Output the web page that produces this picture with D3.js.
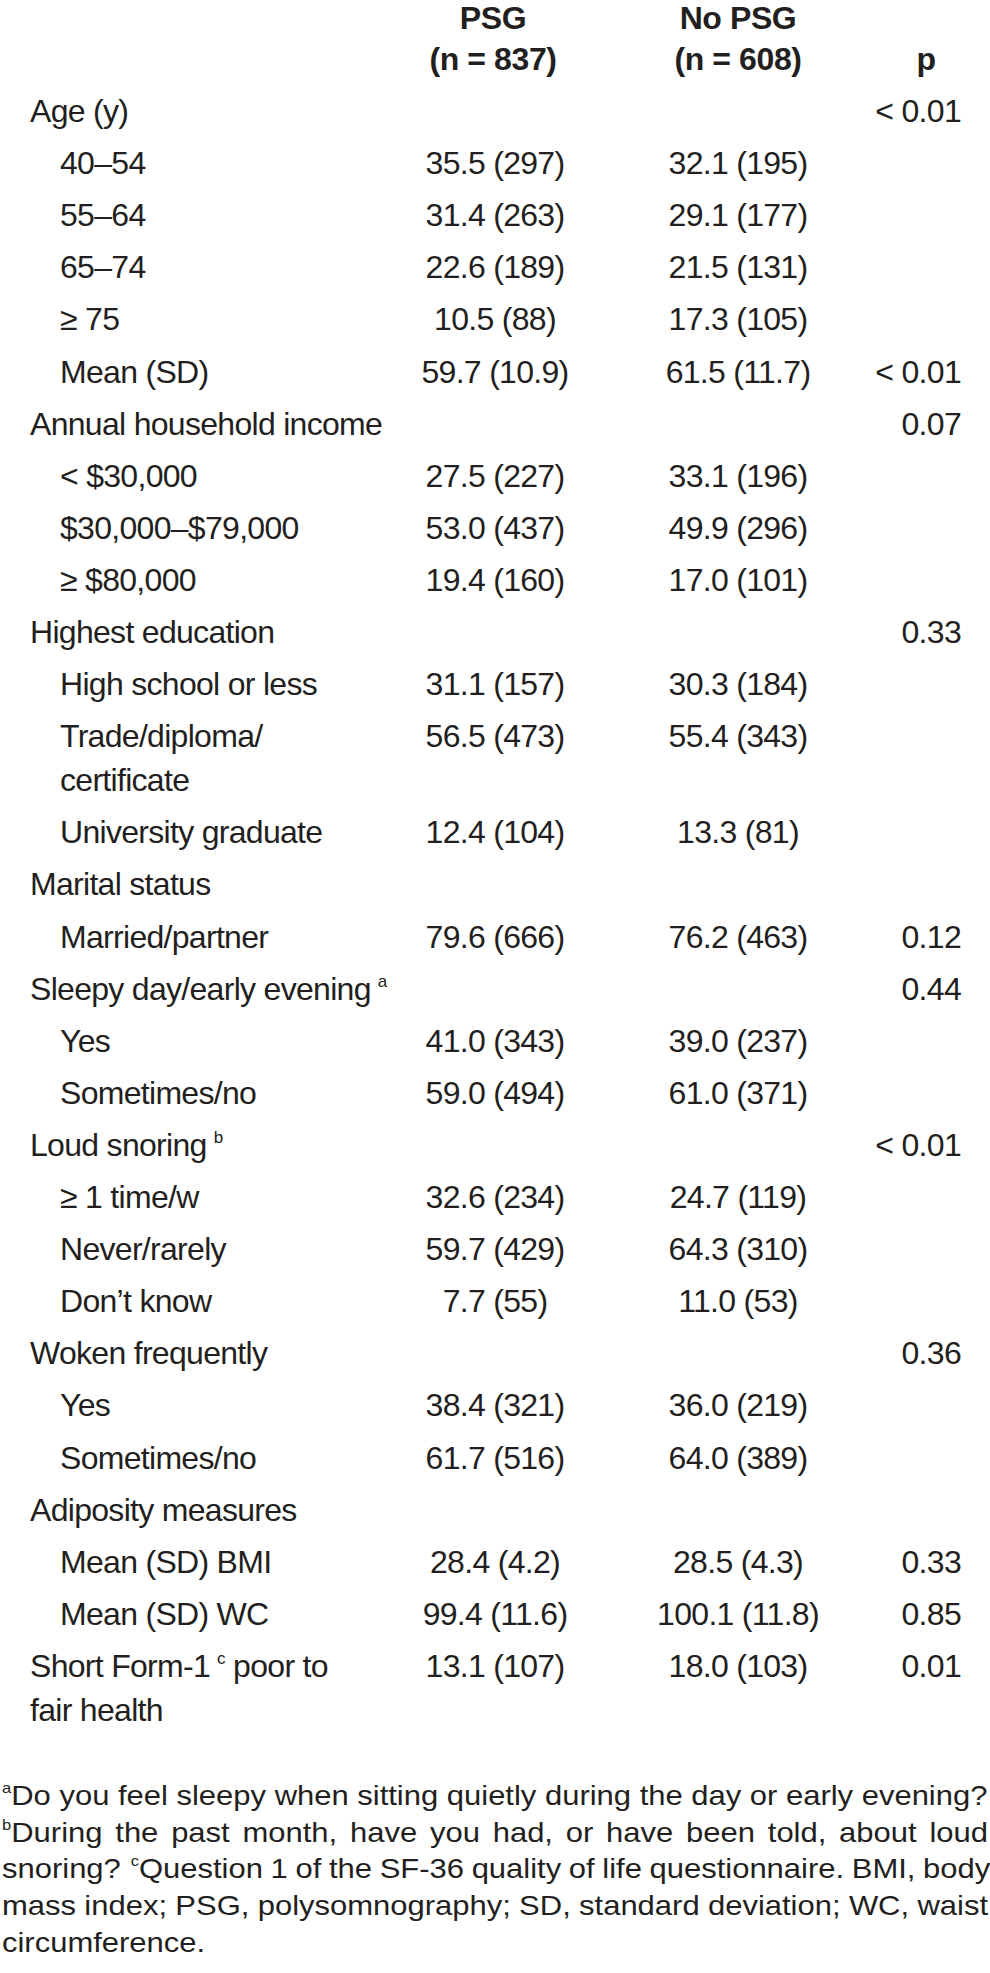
<!DOCTYPE html>
<html>
<head>
<meta charset="utf-8">
<title>PSG vs no PSG characteristics</title>
<script src="https://cdn.jsdelivr.net/npm/d3@7"></script>
<style>
  body { margin: 0; background: #fff; }
  svg text { font-family: "Liberation Sans", Arial, sans-serif; fill: #231f20; }
</style>
</head>
<body>
<svg id="chart"></svg>
<script>
// column headings
var headTop = ['PSG', 'No PSG', ''];
var headBottom = ['(n = 837)', '(n = 608)', 'p'];

// rows: "^x" marks a superscript, "\n" a second line in the cell
var rowLabels = [
  'Age (y)', '40\u201354', '55\u201364', '65\u201374', '\u2265 75', 'Mean (SD)',
  'Annual household income', '< $30,000', '$30,000\u2013$79,000', '\u2265 $80,000',
  'Highest education', 'High school or less', 'Trade/diploma/\ncertificate', 'University graduate',
  'Marital status', 'Married/partner',
  'Sleepy day/early evening^a', 'Yes', 'Sometimes/no',
  'Loud snoring^b', '\u2265 1 time/w', 'Never/rarely', 'Don\u2019t know',
  'Woken frequently', 'Yes', 'Sometimes/no',
  'Adiposity measures', 'Mean (SD) BMI', 'Mean (SD) WC',
  'Short Form-1^c poor to\nfair health'
];
var rowIndent = [0,1,1,1,1,1, 0,1,1,1, 0,1,1,1, 0,1, 0,1,1, 0,1,1,1, 0,1,1, 0,1,1, 0];

var psgValues = [
  '', '35.5 (297)', '31.4 (263)', '22.6 (189)', '10.5 (88)', '59.7 (10.9)',
  '', '27.5 (227)', '53.0 (437)', '19.4 (160)',
  '', '31.1 (157)', '56.5 (473)', '12.4 (104)',
  '', '79.6 (666)',
  '', '41.0 (343)', '59.0 (494)',
  '', '32.6 (234)', '59.7 (429)', '7.7 (55)',
  '', '38.4 (321)', '61.7 (516)',
  '', '28.4 (4.2)', '99.4 (11.6)',
  '13.1 (107)'
];
var noPsgValues = [
  '', '32.1 (195)', '29.1 (177)', '21.5 (131)', '17.3 (105)', '61.5 (11.7)',
  '', '33.1 (196)', '49.9 (296)', '17.0 (101)',
  '', '30.3 (184)', '55.4 (343)', '13.3 (81)',
  '', '76.2 (463)',
  '', '39.0 (237)', '61.0 (371)',
  '', '24.7 (119)', '64.3 (310)', '11.0 (53)',
  '', '36.0 (219)', '64.0 (389)',
  '', '28.5 (4.3)', '100.1 (11.8)',
  '18.0 (103)'
];
var pValues = [
  '< 0.01', '', '', '', '', '< 0.01',
  '0.07', '', '', '',
  '0.33', '', '', '',
  '', '0.12',
  '0.44', '', '',
  '< 0.01', '', '', '',
  '0.36', '', '',
  '', '0.33', '0.85',
  '0.01'
];

var footnoteLines = [
  '^aDo you feel sleepy when sitting quietly during the day or early evening?',
  '^bDuring the past month, have you had, or have been told, about loud',
  'snoring? ^cQuestion 1 of the SF-36 quality of life questionnaire. BMI, body',
  'mass index; PSG, polysomnography; SD, standard deviation; WC, waist',
  'circumference.'
];
var footnoteJustify = [true, true, true, true, false];

(function () {
  'use strict';

  var width = 990, height = 1973;
  var svg = d3.select('#chart').attr('width', width).attr('height', height);

  svg.append('rect').attr('width', width).attr('height', height).attr('fill', '#fff');

  // x anchors for each column
  var colX = d3.scaleOrdinal()
    .domain(['label', 'indent', 'psg', 'noPsg', 'p', 'pHead'])
    .range([30, 60, 495, 738, 961, 926]);

  // row index -> baseline, plus room for the wrapped cells
  var rowY = d3.scaleLinear().domain([0, 1]).range([122, 174.1]);
  var extraLine = 44;

  var extraBefore = [];
  var acc = 0;
  rowLabels.forEach(function (l, i) {
    extraBefore.push(acc);
    acc += (l.split('\n').length - 1);
  });
  function baseline(i) { return rowY(i) + extraBefore[i] * extraLine; }

  function parseSegments(str) {
    return str.split(/\^(\w)/).map(function (p, i) {
      return {t: p, sup: i % 2 === 1};
    }).filter(function (s) { return s.t !== ''; });
  }

  function addSegments(textSel, str, supSize, supRise, supDx) {
    var raised = false;
    parseSegments(str).forEach(function (s, k) {
      var ts = textSel.append('tspan').text(s.t);
      if (s.sup) {
        ts.attr('font-size', supSize).attr('dy', -supRise).attr('dx', k === 0 ? 0 : supDx);
        raised = true;
      } else if (raised) {
        ts.attr('dy', supRise);
        raised = false;
      }
    });
  }

  // header
  var head = svg.append('g').attr('class', 'head')
    .attr('font-weight', 'bold').attr('font-size', 32)
    .attr('letter-spacing', '-0.4px').attr('text-anchor', 'middle');
  var headX = [colX('psg') - 2, colX('noPsg'), colX('pHead')];

  head.selectAll('text.top')
    .data(headTop)
    .enter()
    .append('text')
    .attr('class', 'top')
    .attr('x', function (d, i) { return headX[i]; })
    .attr('y', 29)
    .text(function (d) { return d; });

  head.selectAll('text.bottom')
    .data(headBottom)
    .enter()
    .append('text')
    .attr('class', 'bottom')
    .attr('x', function (d, i) { return headX[i]; })
    .attr('y', 70)
    .text(function (d) { return d; });

  // body
  var body = svg.append('g').attr('class', 'body')
    .attr('font-size', 32).attr('letter-spacing', '-0.7px');

  var labels = body.selectAll('text.label')
    .data(rowLabels)
    .enter()
    .append('text')
    .attr('class', 'label')
    .attr('x', function (d, i) { return rowIndent[i] ? colX('indent') : colX('label'); })
    .attr('y', function (d, i) { return baseline(i); });

  labels.each(function (d, i) {
    var t = d3.select(this);
    d.split('\n').forEach(function (line, j) {
      var sub = j === 0 ? t : t.append('tspan')
        .attr('x', rowIndent[i] ? colX('indent') : colX('label'))
        .attr('y', baseline(i) + j * extraLine);
      addSegments(sub, line, 17, 13, 7);
    });
  });

  body.selectAll('text.psg')
    .data(psgValues)
    .enter()
    .append('text')
    .attr('class', 'psg')
    .attr('text-anchor', 'middle')
    .attr('x', colX('psg'))
    .attr('y', function (d, i) { return baseline(i); })
    .text(function (d) { return d; });

  body.selectAll('text.nopsg')
    .data(noPsgValues)
    .enter()
    .append('text')
    .attr('class', 'nopsg')
    .attr('text-anchor', 'middle')
    .attr('x', colX('noPsg'))
    .attr('y', function (d, i) { return baseline(i); })
    .text(function (d) { return d; });

  body.selectAll('text.pval')
    .data(pValues)
    .enter()
    .append('text')
    .attr('class', 'pval')
    .attr('text-anchor', 'end')
    .attr('x', colX('p'))
    .attr('y', function (d, i) { return baseline(i); })
    .text(function (d) { return d; });

  // footnotes, justified to the page width
  var noteY = d3.scaleLinear().domain([0, 1]).range([1805, 1841.7]);
  var noteLeft = 2, noteRight = 988;
  var notes = svg.append('g').attr('class', 'notes').attr('font-size', 28);

  var noteText = notes.selectAll('text')
    .data(footnoteLines)
    .enter()
    .append('text')
    .attr('x', 0)
    .attr('y', function (d, i) { return noteY(i); });

  noteText.each(function (d) {
    addSegments(d3.select(this), d, 15, 12, 2);
  });

  var firstWidth = noteText.node().getComputedTextLength();
  var k = (noteRight - noteLeft) / firstWidth;
  notes.attr('transform', 'translate(' + noteLeft + ',0) scale(' + k + ',1)');

  noteText.each(function (d, i) {
    if (!footnoteJustify[i] || i === 0) return;
    var w = this.getComputedTextLength();
    var spaces = d.split(' ').length - 1;
    if (spaces > 0) d3.select(this).attr('word-spacing', ((firstWidth - w) / spaces) + 'px');
  });
})();
</script>
</body>
</html>
